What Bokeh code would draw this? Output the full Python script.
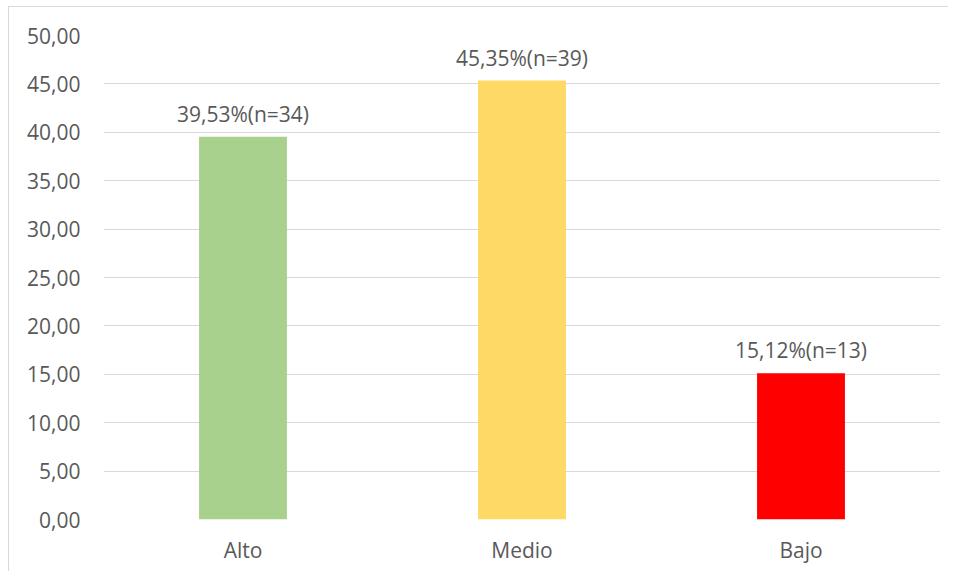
from bokeh.plotting import figure
from bokeh.models import ColumnDataSource, FixedTicker, CustomJSTickFormatter, LabelSet, Range1d
from bokeh.embed import file_html
from bokeh.resources import INLINE
from bokeh.core.properties import value

categories = ["Alto", "Medio", "Bajo"]
percentages = [39.53, 45.35, 15.12]
counts = [34, 39, 13]
colors = ["#A9D18E", "#FFD966", "#FF0000"]
y_ticks = [0, 5, 10, 15, 20, 25, 30, 35, 40, 45, 50]

labels = [f"{p:.2f}".replace(".", ",") + f"%(n={n})" for p, n in zip(percentages, counts)]

source = ColumnDataSource(data=dict(cat=categories, pct=percentages, color=colors, label=labels))

FONT = "Open Sans"
TXT = "#595959"

p = figure(x_range=categories, y_range=Range1d(0, 50), width=940, height=565,
           output_backend="svg", toolbar_location=None,
           min_border_left=94, min_border_right=9, min_border_top=28, min_border_bottom=53)

p.vbar(x="cat", top="pct", width=0.315, color="color", source=source, line_color=None)

p.add_layout(LabelSet(x="cat", y="pct", text="label", source=source,
                      text_align="center", text_baseline="bottom", y_offset=9,
                      text_font=value(FONT), text_font_size="21px", text_color=TXT))

p.yaxis.ticker = FixedTicker(ticks=y_ticks)
p.yaxis.formatter = CustomJSTickFormatter(code="return tick.toFixed(2).replace('.', ',');")
for ax in (p.xaxis[0], p.yaxis[0]):
    ax.axis_line_color = None
    ax.major_tick_line_color = None
    ax.minor_tick_line_color = None
    ax.major_label_text_font = FONT
    ax.major_label_text_font_size = "21px"
    ax.major_label_text_color = TXT
p.yaxis.major_label_standoff = 17
p.xaxis.major_label_standoff = 10

p.xgrid.grid_line_color = None
p.ygrid.grid_line_color = "#D9D9D9"
p.ygrid.grid_line_width = 1
p.outline_line_color = None
p.styles = {"border-left": "1px solid #D9D9D9", "border-top": "1px solid #D9D9D9",
            "margin": "6px 0 0 8px"}

open("out.html", "w").write(file_html(p, INLINE))
